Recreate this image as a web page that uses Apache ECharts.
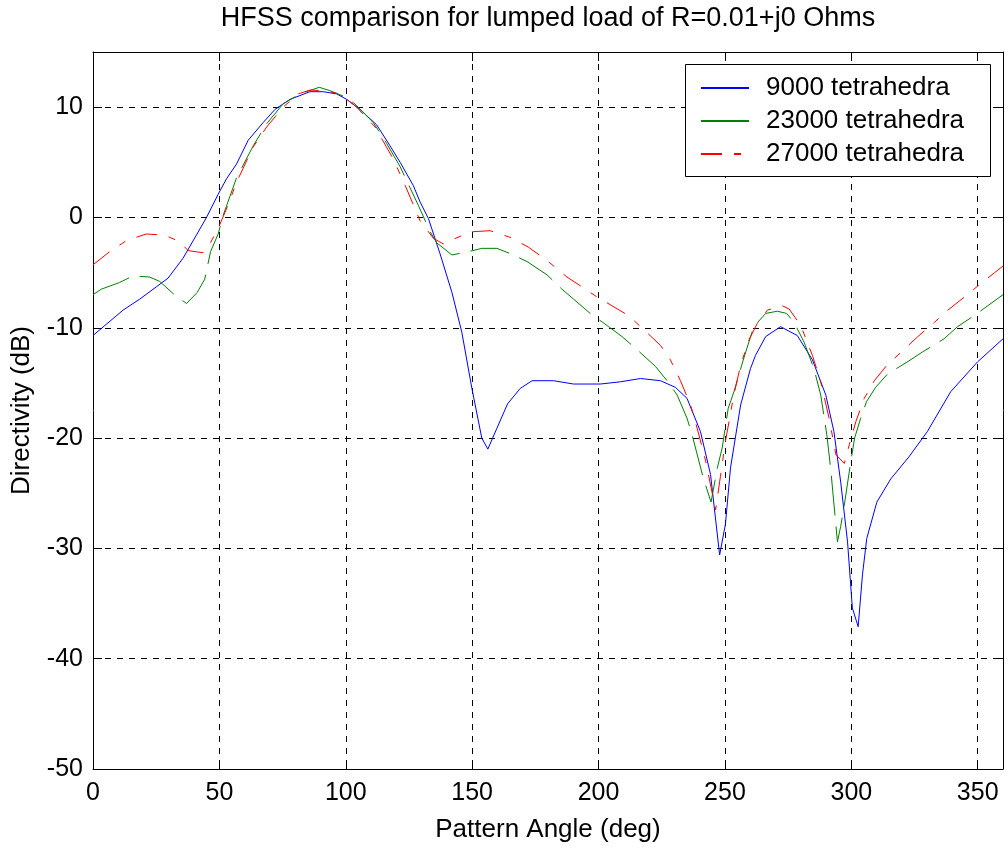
<!DOCTYPE html>
<html>
<head>
<meta charset="utf-8">
<script src="https://cdn.jsdelivr.net/npm/echarts@6/dist/echarts.min.js"></script>
<style>html,body{margin:0;padding:0;background:#fff}#c{width:1008px;height:848px}</style>
</head>
<body>
<div id="c"></div>
<script>
const titleText = 'HFSS comparison for lumped load of R=0.01+j0 Ohms';
const xName = 'Pattern Angle (deg)';
const yName = 'Directivity (dB)';
const seriesNames = ['9000 tetrahedra', '23000 tetrahedra', '27000 tetrahedra'];

const anglesBlue = [0, 11.9, 18.5, 25, 29.7, 35.6, 40.9, 44.9, 49.5, 52.8, 56.8, 61.4, 67.3, 72, 77.9, 85.8, 91.1, 96.4, 100.4, 105.6, 112.2, 117.5, 121.5, 126.7, 129.4, 132.7, 137.3, 142, 145.9, 149.9, 153.8, 156.2, 159.8, 164, 169, 173.7, 182.2, 190.1, 200.7, 208.6, 216.6, 224.5, 230.4, 235, 240.3, 244.3, 247.9, 250.2, 252.2, 256.2, 260.1, 262.1, 266.1, 272, 278.6, 284.6, 289.9, 293.1, 295.8, 298.5, 300.4, 302.7, 304.4, 306.1, 310.1, 315.6, 322.8, 330.1, 339.3, 349.9, 360];
const valuesBlue = [-10.7, -8.4, -7.4, -6.3, -5.5, -3.7, -1.6, 0, 2.1, 3.5, 4.85, 7.0, 8.6, 9.8, 10.7, 11.4, 11.4, 11.2, 10.7, 9.8, 8.4, 6.5, 5.0, 2.9, 1.4, -0.1, -3.3, -6.8, -10.4, -15.5, -20.0, -21.0, -19.1, -16.9, -15.5, -14.8, -14.8, -15.1, -15.1, -14.9, -14.6, -14.8, -15.4, -16.4, -19.4, -23.3, -30.6, -27.8, -22.7, -17.0, -13.7, -12.5, -10.8, -9.9, -10.7, -12.9, -16.1, -19.4, -24.0, -29.4, -35.4, -37.1, -32.4, -29.1, -25.8, -23.7, -21.7, -19.4, -15.8, -13.1, -11.0];

const anglesGreen = [0, 3.3, 10.5, 15.8, 22.4, 26.4, 31.7, 37, 41.2, 44.2, 46.5, 49.5, 51.5, 56.8, 63.4, 68.7, 75.2, 81.9, 89.5, 93.7, 99, 103.6, 110.9, 116.2, 121.5, 128.7, 133.4, 136, 142, 148.5, 153.8, 159.8, 165.3, 171.7, 179.6, 185.5, 190.1, 196.7, 204, 209.3, 215.3, 222.5, 227.1, 231.1, 235, 237, 241.4, 244.5, 247, 248.9, 251.3, 253.7, 257, 261.4, 266.1, 270.7, 274.4, 277.3, 281.3, 285.2, 287.9, 290.3, 291.8, 294.5, 295.8, 297.4, 299.8, 301.3, 303.7, 306, 309.6, 314.3, 322.8, 328.1, 336.7, 342, 348.6, 360];
const valuesGreen = [-7.0, -6.5, -5.9, -5.3, -5.4, -5.8, -6.9, -7.8, -6.8, -5.6, -3.1, -1.5, 0.2, 3.6, 6.5, 8.5, 10.3, 11.2, 11.8, 11.5, 11.0, 10.3, 8.6, 6.7, 4.6, 1.1, -1.3, -2.3, -3.4, -3.1, -2.8, -2.8, -3.3, -4.0, -5.2, -6.5, -7.4, -8.7, -9.9, -10.8, -12.0, -13.5, -14.8, -16.1, -18.2, -19.7, -23.6, -25.8, -22.7, -20.9, -17.3, -15.7, -13.1, -9.9, -8.7, -8.5, -8.7, -9.5, -11.3, -13.7, -16.1, -19.7, -22.7, -29.4, -28.0, -25.8, -22.1, -20.0, -18.2, -16.7, -15.4, -14.2, -13.0, -12.2, -11.0, -9.9, -8.9, -7.0];

const anglesRed = [0, 6.6, 13.2, 21.1, 28.4, 34.3, 37.6, 43.5, 46.2, 49.5, 53.4, 56.8, 63.4, 68.7, 75.2, 81.2, 85.8, 91.1, 97.7, 104.3, 111.6, 118.8, 123.5, 129.4, 134.7, 138.6, 142.3, 149.5, 157.1, 165, 172.3, 179.6, 187.5, 191.5, 198.7, 205.3, 211.9, 218.5, 224.5, 228.4, 232.4, 236.4, 239, 242.3, 246.3, 248.2, 250.2, 253.5, 256.2, 259.5, 262.8, 266.8, 272.7, 275.4, 280, 284.6, 287.9, 291.2, 293.9, 297.2, 299.2, 301.8, 305.1, 309.1, 313.7, 319.7, 326.3, 332.9, 338.2, 344.8, 350.1, 356.7, 360];
const valuesRed = [-4.3, -3.1, -2.1, -1.5, -1.6, -2.2, -3.0, -3.2, -2.4, -1.0, 1.1, 3.2, 6.4, 8.2, 10.0, 11.2, 11.55, 11.5, 11.2, 10.0, 8.2, 5.3, 2.9, -0.3, -1.9, -2.4, -2.0, -1.3, -1.2, -1.8, -2.7, -3.9, -5.4, -6.0, -7.1, -8.0, -8.9, -10.3, -11.6, -12.9, -14.8, -17.0, -19.1, -22.0, -26.5, -23.5, -20.3, -16.1, -13.4, -11.1, -9.6, -8.4, -8.0, -8.3, -9.8, -12.5, -14.9, -18.2, -21.5, -22.3, -20.6, -18.5, -16.4, -14.8, -13.5, -12.2, -10.8, -9.5, -8.4, -7.2, -6.2, -5.0, -4.4];

const xTicks = [0, 50, 100, 150, 200, 250, 300, 350];
const yTicks = [-50, -40, -30, -20, -10, 0, 10];

const FONT = '"Liberation Sans", Arial, Helvetica, sans-serif';
const pairs = (a, v) => a.map((x, i) => [x, v[i]]);

const chart = echarts.init(document.getElementById('c'), null, {renderer: 'canvas'});
const xLabel = v => xTicks.indexOf(v) >= 0 ? String(v) : '';
const yLabel = v => yTicks.indexOf(v) >= 0 ? String(v) : '';
const baseAxis = {
  axisLine: {show: true, onZero: false, lineStyle: {color: '#000', width: 1}},
  axisTick: {show: true, inside: true, length: 9, lineStyle: {color: '#000', width: 1}},
  splitLine: {show: false},
  axisLabel: {show: false}
};
chart.setOption({
  animation: false,
  backgroundColor: '#fff',
  title: {
    text: titleText, left: 548, top: 5, textAlign: 'center', padding: 0,
    textStyle: {fontFamily: FONT, fontSize: 27, fontWeight: 'normal', color: '#000'}
  },
  grid: {left: 93, right: 5, top: 52, bottom: 79, show: false},
  graphic: [{
    type: 'rect', z: 50, silent: true,
    shape: {x: 685.5, y: 64.5, width: 305, height: 112},
    style: {fill: '#fff', stroke: '#000', lineWidth: 1}
  }],
  legend: {
    left: 685, top: 64, orient: 'vertical', z: 60,
    itemWidth: 48, itemHeight: 14, itemGap: 7,
    padding: [11, 0, 10, 15],
    itemStyle: {opacity: 0},
    textStyle: {fontFamily: FONT, fontSize: 26, color: '#000', lineHeight: 26, padding: [0, 0, 0, 12]},
    data: [
      {name: seriesNames[0]},
      {name: seriesNames[1], lineStyle: {type: 'solid'}},
      {name: seriesNames[2]}
    ]
  },
  xAxis: [
    Object.assign({}, baseAxis, {
      type: 'value', min: 0, max: 360, interval: 50, position: 'bottom',
      axisLabel: {show: true, formatter: xLabel, fontFamily: FONT, fontSize: 25, color: '#000', margin: 12},
      splitLine: {show: true, lineStyle: {color: '#000', width: 1, type: [6, 6]}},
      name: xName, nameLocation: 'middle', nameGap: 48,
      nameTextStyle: {fontFamily: FONT, fontSize: 26, color: '#000'}
    }),
    Object.assign({}, baseAxis, {type: 'value', min: 0, max: 360, interval: 50, position: 'top'})
  ],
  yAxis: [
    Object.assign({}, baseAxis, {
      type: 'value', min: -50, max: 15, interval: 10, position: 'left',
      axisLabel: {show: true, formatter: yLabel, fontFamily: FONT, fontSize: 25, color: '#000', margin: 10},
      splitLine: {show: true, lineStyle: {color: '#000', width: 1, type: [6, 6]}},
      name: yName, nameLocation: 'middle', nameGap: 58,
      nameTextStyle: {fontFamily: FONT, fontSize: 26, color: '#000'}
    }),
    Object.assign({}, baseAxis, {type: 'value', min: -50, max: 15, interval: 10, position: 'right'})
  ],
  series: [
    {name: seriesNames[0], type: 'line', data: pairs(anglesBlue, valuesBlue), symbol: 'none', showSymbol: false,
      lineStyle: {color: '#0000ff', width: 1}, itemStyle: {color: '#0000ff'}, z: 3},
    {name: seriesNames[1], type: 'line', data: pairs(anglesGreen, valuesGreen), symbol: 'none', showSymbol: false,
      lineStyle: {color: '#008000', width: 1, type: [40, 11]}, itemStyle: {color: '#008000'}, z: 4},
    {name: seriesNames[2], type: 'line', data: pairs(anglesRed, valuesRed), symbol: 'none', showSymbol: false,
      lineStyle: {color: '#ff0000', width: 1, type: [21, 12, 7, 12]}, itemStyle: {color: '#ff0000'}, z: 5}
  ]
});
</script>
</body>
</html>
